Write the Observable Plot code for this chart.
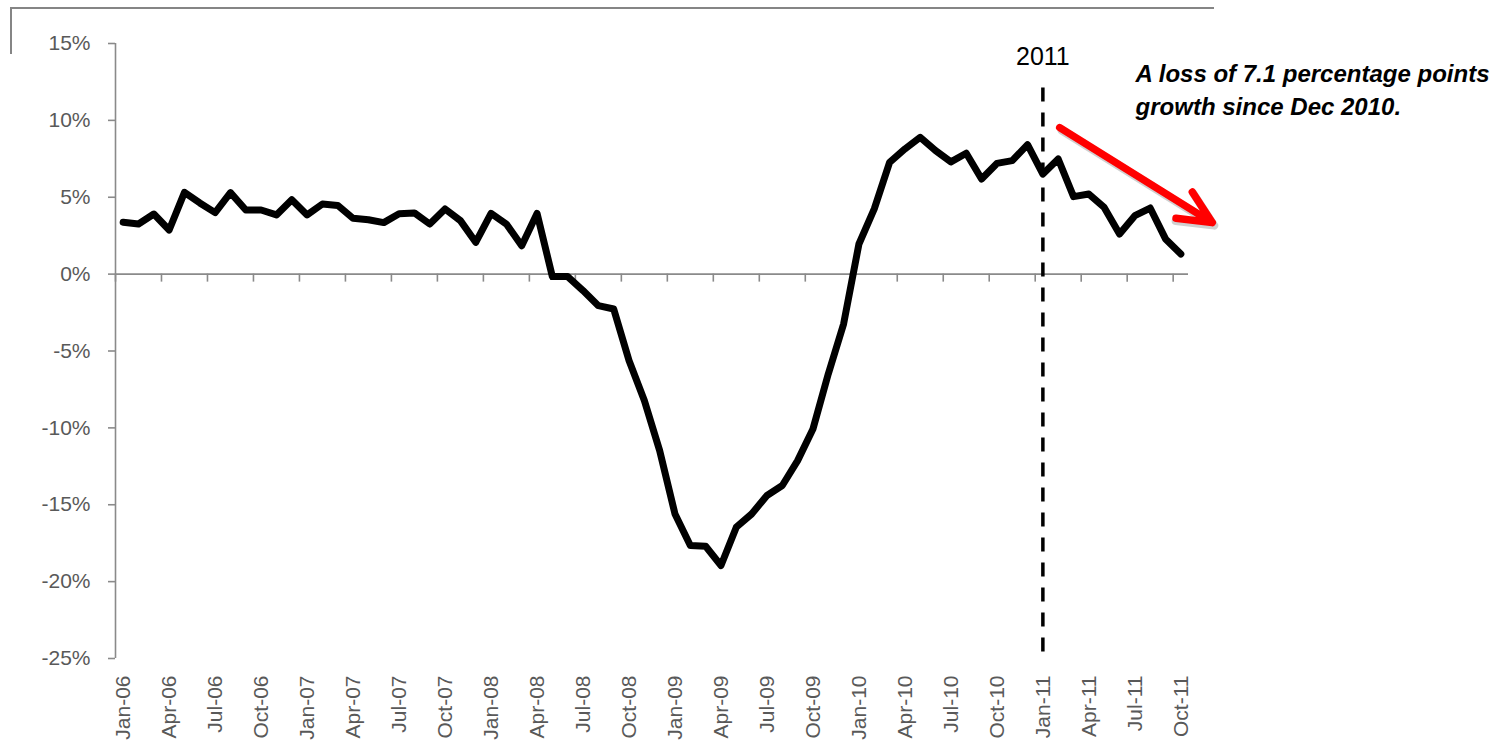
<!DOCTYPE html>
<html>
<head>
<meta charset="utf-8">
<script src="https://cdn.jsdelivr.net/npm/d3@7"></script>
<script src="https://cdn.jsdelivr.net/npm/@observablehq/plot@0.6"></script>
<style>
  html, body { margin: 0; padding: 0; background: #fff; }
  #wrap { position: relative; width: 1505px; height: 755px; overflow: hidden; }
  #frame { position: absolute; left: 10px; top: 7px; width: 1202px; height: 45px;
           border-top: 2px solid #858585; border-left: 2px solid #858585; z-index: 2; }
  #chart { position: absolute; left: 0; top: 0; }
</style>
</head>
<body>
<div id="wrap"><div id="frame"></div><div id="chart"></div></div>
<script>
// Month tick labels (every third month, Jan-06 .. Oct-11)
const tickLabels = ["Jan-06","Apr-06","Jul-06","Oct-06","Jan-07","Apr-07","Jul-07","Oct-07",
  "Jan-08","Apr-08","Jul-08","Oct-08","Jan-09","Apr-09","Jul-09","Oct-09",
  "Jan-10","Apr-10","Jul-10","Oct-10","Jan-11","Apr-11","Jul-11","Oct-11"];

// Year-over-year growth (%), monthly Jan-06 .. Oct-11
const growth = [
  3.37, 3.26, 3.91, 2.87, 5.32, 4.63, 4.00, 5.30, 4.17, 4.17, 3.85, 4.84,   // 2006
  3.85, 4.56, 4.47, 3.63, 3.54, 3.35, 3.93, 3.98, 3.26, 4.24, 3.48, 2.07,   // 2007
  3.95, 3.26, 1.85, 3.95, -0.16, -0.16, -1.07, -2.05, -2.27, -5.62, -8.22, -11.48, // 2008
  -15.6, -17.65, -17.7, -18.95, -16.46, -15.6, -14.4, -13.75, -12.13, -10.07, -6.49, -3.24, // 2009
  1.96, 4.24, 7.27, 8.14, 8.9, 8.03, 7.3, 7.86, 6.19, 7.2, 7.38, 8.42,      // 2010
  6.51, 7.49, 5.04, 5.21, 4.34, 2.61, 3.80, 4.30, 2.29, 1.31                // 2011
];

const yTicks = [15, 10, 5, 0, -5, -10, -15, -20, -25];
const markerIndex = 60;          // Jan-11
const markerLabel = "2011";
const note = "A loss of 7.1 percentage points\ngrowth since Dec 2010.";

const n = growth.length;
const labelPos = tickLabels.map((_, k) => k * 3);
const tickPos = tickLabels.map((_, k) => k * 3 - 0.5);
const series = growth.map((v, i) => ({i, v}));

const axisGray = "#8a8a8a";
const textGray = "#595959";

const plot = Plot.plot({
  width: 1505,
  height: 755,
  marginLeft: 115,
  marginRight: 317,
  marginTop: 43,
  marginBottom: 97,
  style: {fontFamily: "'Liberation Sans', Arial, sans-serif", fontSize: "21px", background: "transparent", overflow: "visible"},
  x: {type: "linear", domain: [-0.5, n - 0.5], axis: null},
  y: {domain: [-25, 15], axis: null},
  marks: [
    Plot.ruleY([0], {stroke: axisGray, strokeWidth: 1.6}),
    Plot.ruleX([-0.5], {y1: -25, y2: 15, stroke: axisGray, strokeWidth: 1.6}),
    Plot.ruleX(tickPos, {x: d => d, y1: 0, y2: 0, insetBottom: -8, stroke: axisGray, strokeWidth: 1.6}),
    Plot.axisY({ticks: yTicks, tickSize: 7, tickPadding: 18, tickFormat: d => `${d}%`,
      stroke: axisGray, strokeWidth: 1.6, fill: textGray, fontSize: 21, label: null}),
    Plot.axisX({ticks: labelPos, tickFormat: i => tickLabels[Math.round(i / 3)], tickRotate: -90,
      tickSize: 0, tickPadding: 17, fill: textGray, fontSize: 21, label: null}),
    Plot.ruleX([markerIndex], {y1: 12.1, y2: -25, stroke: "black", strokeWidth: 3.5, strokeDasharray: "14,11"}),
    Plot.text([markerLabel], {x: markerIndex, y: 14.1, text: d => d, fill: "black", fontSize: 25, textAnchor: "middle", lineAnchor: "middle"}),
    Plot.line(series, {x: "i", y: "v", stroke: "black", strokeWidth: 7, strokeLinejoin: "round", strokeLinecap: "round"}),
    Plot.arrow([0], {x1: 61.1, y1: 9.53, x2: 71.05, y2: 3.35, stroke: "#777", strokeOpacity: 0.35, strokeWidth: 8, headLength: 7.3, headAngle: 50, dx: 2, dy: 3}),
    Plot.arrow([0], {x1: 61.1, y1: 9.53, x2: 71.05, y2: 3.35, stroke: "#ff0000", strokeWidth: 7.5, headLength: 7.3, headAngle: 50}),
    Plot.text([note], {x: 66.05, y: 12.09, text: d => d, textAnchor: "start", lineAnchor: "middle", lineHeight: 1.375,
      fontSize: 24, fontWeight: "bold", fontStyle: "italic", fill: "black"})
  ]
});
document.getElementById("chart").appendChild(plot);
</script>
</body>
</html>
